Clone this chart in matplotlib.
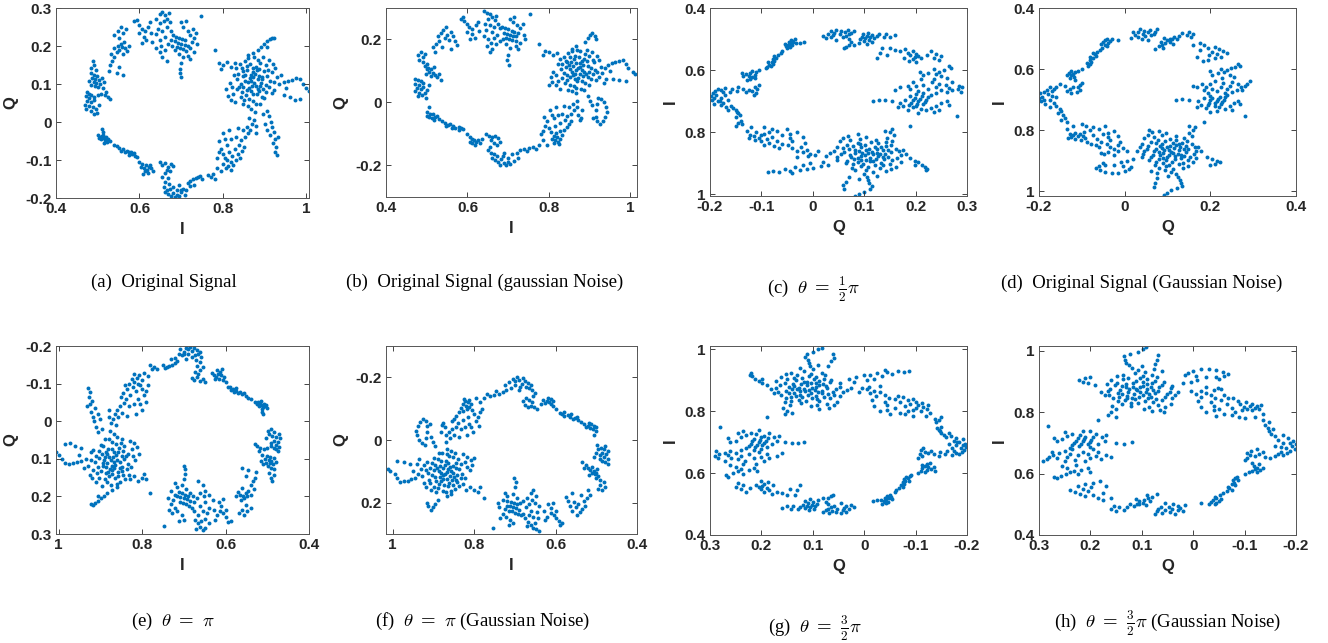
import numpy as np
import matplotlib.pyplot as plt

plt.rcParams['mathtext.fontset'] = 'cm'

# ---------------- original signal, (I, Q) pairs
orig_left_arc = [
    (0.488, 0.160), (0.492, 0.150), (0.485, 0.142), (0.495, 0.138), (0.483, 0.128),
    (0.490, 0.125), (0.498, 0.120), (0.486, 0.115), (0.494, 0.112), (0.502, 0.110),
    (0.480, 0.108), (0.490, 0.105), (0.497, 0.102), (0.505, 0.100), (0.485, 0.098),
    (0.493, 0.095), (0.500, 0.092), (0.510, 0.115), (0.515, 0.105), (0.512, 0.090),
    (0.520, 0.080), (0.518, 0.070), (0.525, 0.065), (0.530, 0.060), (0.508, 0.075),
    (0.475, 0.080), (0.480, 0.075), (0.472, 0.068), (0.485, 0.070), (0.478, 0.062),
    (0.490, 0.065), (0.474, 0.055), (0.483, 0.052), (0.492, 0.058), (0.470, 0.045),
    (0.480, 0.042), (0.488, 0.040), (0.473, 0.035), (0.495, 0.035), (0.485, 0.030),
    (0.498, 0.025), (0.490, 0.020), (0.503, 0.045), (0.500, 0.070),
]
orig_lower_tail = [
    (0.510, -0.018), (0.512, -0.025), (0.500, -0.035), (0.505, -0.040), (0.510, -0.038),
    (0.515, -0.042), (0.520, -0.040), (0.508, -0.046), (0.518, -0.048), (0.525, -0.045),
    (0.502, -0.043), (0.513, -0.033), (0.522, -0.052), (0.530, -0.050), (0.515, -0.055),
    (0.538, -0.060), (0.545, -0.062), (0.552, -0.068), (0.560, -0.072), (0.566, -0.078),
    (0.570, -0.075), (0.575, -0.080), (0.580, -0.078), (0.583, -0.085), (0.588, -0.082),
    (0.575, -0.087), (0.590, -0.090), (0.595, -0.092), (0.555, -0.075),
    (0.600, -0.105), (0.605, -0.110), (0.603, -0.118), (0.610, -0.122), (0.612, -0.130),
    (0.618, -0.125), (0.622, -0.118), (0.615, -0.112), (0.628, -0.122), (0.633, -0.128),
    (0.620, -0.135), (0.608, -0.138), (0.625, -0.112),
]
orig_bottom = [
    (0.648, -0.105), (0.655, -0.112), (0.662, -0.108), (0.668, -0.118), (0.675, -0.110),
    (0.680, -0.115), (0.665, -0.125), (0.672, -0.130), (0.660, -0.135), (0.655, -0.145),
    (0.668, -0.148), (0.662, -0.158), (0.670, -0.162), (0.658, -0.170), (0.665, -0.178),
    (0.672, -0.175), (0.660, -0.185), (0.668, -0.190), (0.675, -0.195), (0.680, -0.188),
    (0.685, -0.198), (0.690, -0.192), (0.695, -0.196), (0.680, -0.170), (0.690, -0.178),
    (0.700, -0.185), (0.705, -0.175), (0.695, -0.165), (0.710, -0.192), (0.715, -0.160),
    (0.722, -0.155), (0.728, -0.150), (0.735, -0.148), (0.740, -0.145), (0.745, -0.142),
    (0.720, -0.168), (0.730, -0.165), (0.750, -0.150), (0.765, -0.140), (0.772, -0.145),
    (0.780, -0.150), (0.775, -0.138), (0.712, -0.178), (0.700, -0.180),
]
orig_lower_right = [
    (0.790, -0.080), (0.795, -0.070), (0.785, -0.095), (0.800, -0.085), (0.805, -0.095),
    (0.810, -0.100), (0.800, -0.110), (0.812, -0.115), (0.818, -0.105), (0.808, -0.122),
    (0.820, -0.125), (0.825, -0.112), (0.830, -0.100), (0.822, -0.090), (0.835, -0.085),
    (0.840, -0.095), (0.815, -0.080), (0.828, -0.070), (0.838, -0.060), (0.845, -0.075),
    (0.850, -0.065), (0.810, -0.060), (0.820, -0.045), (0.830, -0.040), (0.842, -0.048),
    (0.852, -0.040), (0.860, -0.030), (0.848, -0.022), (0.858, -0.012), (0.865, -0.020),
    (0.870, -0.005), (0.875, 0.005), (0.862, 0.010), (0.800, -0.030), (0.805, -0.045),
    (0.815, -0.020), (0.835, -0.015), (0.880, -0.030), (0.878, -0.010), (0.790, -0.050),
    (0.785, -0.120), (0.795, -0.128),
    (0.915, 0.000), (0.918, -0.012), (0.922, -0.025), (0.912, -0.035), (0.925, -0.045),
    (0.920, -0.055), (0.928, -0.065), (0.925, -0.078), (0.930, -0.088), (0.905, -0.020),
    (0.900, -0.005), (0.910, 0.015), (0.932, -0.040), (0.895, 0.020), (0.905, 0.030),
]
orig_main_cluster = [
    (0.841, 0.153), (0.853, 0.161), (0.861, 0.168), (0.874, 0.171), (0.883, 0.163),
    (0.889, 0.155), (0.902, 0.151), (0.907, 0.137), (0.917, 0.131), (0.846, 0.143),
    (0.857, 0.147), (0.864, 0.152), (0.879, 0.146), (0.886, 0.139), (0.899, 0.133),
    (0.836, 0.126), (0.849, 0.133), (0.857, 0.136), (0.871, 0.131), (0.876, 0.126),
    (0.887, 0.122), (0.893, 0.118), (0.906, 0.121), (0.913, 0.108), (0.833, 0.113),
    (0.847, 0.121), (0.853, 0.109), (0.864, 0.116), (0.871, 0.118), (0.884, 0.112),
    (0.891, 0.103), (0.902, 0.098), (0.909, 0.093), (0.921, 0.104), (0.842, 0.101),
    (0.848, 0.093), (0.859, 0.104), (0.869, 0.096), (0.878, 0.094), (0.884, 0.087),
    (0.897, 0.087), (0.904, 0.078), (0.917, 0.077), (0.834, 0.087), (0.846, 0.078),
    (0.857, 0.083), (0.866, 0.082), (0.873, 0.073), (0.881, 0.075), (0.893, 0.066),
    (0.899, 0.064), (0.843, 0.067), (0.851, 0.058), (0.863, 0.061), (0.871, 0.054),
    (0.879, 0.047), (0.889, 0.047), (0.861, 0.042), (0.867, 0.033), (0.876, 0.026),
    (0.849, 0.047), (0.821, 0.092), (0.824, 0.073), (0.816, 0.103), (0.811, 0.068),
    (0.807, 0.087), (0.819, 0.058), (0.829, 0.052), (0.831, 0.142), (0.826, 0.123),
    (0.923, 0.083), (0.929, 0.118), (0.924, 0.142), (0.919, 0.152), (0.911, 0.162),
    (0.871, 0.182), (0.859, 0.176), (0.896, 0.172), (0.868, 0.108), (0.875, 0.102),
    (0.862, 0.089), (0.889, 0.094), (0.853, 0.125), (0.881, 0.136), (0.894, 0.112),
    (0.839, 0.092), (0.872, 0.141), (0.856, 0.071), (0.886, 0.081), (0.866, 0.124),
    (0.885, 0.190), (0.892, 0.198), (0.898, 0.205), (0.905, 0.212), (0.912, 0.218),
    (0.918, 0.222), (0.905, 0.198), (0.922, 0.220), (0.780, 0.190), (0.790, 0.155),
    (0.800, 0.150), (0.810, 0.158), (0.818, 0.145), (0.828, 0.155), (0.795, 0.140),
    (0.945, 0.105), (0.955, 0.108), (0.965, 0.110), (0.975, 0.115), (0.985, 0.112),
    (0.992, 0.100), (1.000, 0.090), (1.005, 0.082), (0.945, 0.070), (0.960, 0.065),
    (0.972, 0.058), (0.985, 0.060), (0.950, 0.090), (0.935, 0.100), (0.940, 0.125),
]
orig_top_cluster = [
    (0.680, 0.230), (0.688, 0.225), (0.695, 0.220), (0.702, 0.218), (0.710, 0.215),
    (0.684, 0.212), (0.692, 0.208), (0.700, 0.205), (0.708, 0.202), (0.716, 0.200),
    (0.690, 0.198), (0.698, 0.195), (0.705, 0.192), (0.712, 0.188), (0.720, 0.195),
    (0.725, 0.210), (0.730, 0.220), (0.722, 0.230), (0.715, 0.240), (0.705, 0.250),
    (0.700, 0.262), (0.712, 0.265), (0.728, 0.245), (0.735, 0.235), (0.738, 0.205),
    (0.730, 0.185), (0.715, 0.175), (0.705, 0.170), (0.695, 0.180), (0.700, 0.155),
    (0.698, 0.140), (0.696, 0.128), (0.700, 0.118), (0.685, 0.190), (0.678, 0.200),
    (0.747, 0.280), (0.720, 0.165),
]
orig_top_arc = [
    (0.530, 0.150), (0.535, 0.160), (0.540, 0.170), (0.532, 0.180), (0.545, 0.185),
    (0.552, 0.190), (0.540, 0.195), (0.548, 0.200), (0.558, 0.198), (0.565, 0.195),
    (0.570, 0.188), (0.555, 0.205), (0.562, 0.210), (0.575, 0.200), (0.560, 0.178),
    (0.550, 0.145), (0.545, 0.130), (0.528, 0.135), (0.560, 0.125),
    (0.540, 0.230), (0.548, 0.240), (0.555, 0.250), (0.560, 0.235), (0.568, 0.245),
    (0.552, 0.222),
    (0.586, 0.265), (0.595, 0.268), (0.600, 0.255), (0.605, 0.245), (0.612, 0.240),
    (0.598, 0.235), (0.610, 0.225), (0.620, 0.250), (0.625, 0.262), (0.628, 0.235),
    (0.615, 0.215), (0.605, 0.208), (0.630, 0.210),
    (0.650, 0.285), (0.655, 0.290), (0.662, 0.282), (0.670, 0.288), (0.640, 0.270),
    (0.648, 0.260), (0.658, 0.265), (0.665, 0.270), (0.672, 0.262), (0.645, 0.245),
    (0.655, 0.240), (0.665, 0.250), (0.675, 0.240), (0.640, 0.232), (0.660, 0.225),
    (0.648, 0.215), (0.652, 0.200), (0.660, 0.190), (0.668, 0.205), (0.675, 0.215),
    (0.640, 0.195), (0.655, 0.170), (0.665, 0.160), (0.650, 0.185),
]

# ---------------- signal with gaussian noise, (I, Q) pairs
noisy_left_arc = [
    (0.478, 0.150), (0.485, 0.160), (0.490, 0.145), (0.495, 0.155), (0.482, 0.135),
    (0.492, 0.128), (0.500, 0.122), (0.495, 0.115), (0.502, 0.110), (0.510, 0.105),
    (0.505, 0.098), (0.515, 0.095), (0.498, 0.092), (0.520, 0.088), (0.510, 0.085),
    (0.525, 0.080), (0.500, 0.105), (0.518, 0.112), (0.530, 0.090), (0.535, 0.070),
    (0.470, 0.075), (0.478, 0.070), (0.485, 0.068), (0.472, 0.060), (0.480, 0.055),
    (0.490, 0.062), (0.475, 0.045), (0.485, 0.042), (0.492, 0.048), (0.470, 0.035),
    (0.480, 0.030), (0.488, 0.025), (0.495, 0.030), (0.478, 0.020), (0.500, 0.040),
    (0.505, 0.055), (0.498, 0.015),
]
noisy_lower_tail = [
    (0.505, -0.015), (0.500, -0.030), (0.508, -0.035), (0.515, -0.038), (0.505, -0.045),
    (0.520, -0.045), (0.512, -0.050), (0.525, -0.042), (0.518, -0.055), (0.530, -0.052),
    (0.500, -0.042), (0.538, -0.058), (0.545, -0.065), (0.552, -0.070), (0.558, -0.068),
    (0.565, -0.075), (0.570, -0.080), (0.578, -0.078), (0.585, -0.082), (0.580, -0.088),
    (0.590, -0.085), (0.548, -0.075), (0.562, -0.082),
    (0.600, -0.100), (0.605, -0.108), (0.610, -0.115), (0.615, -0.120), (0.620, -0.125),
    (0.612, -0.130), (0.625, -0.118), (0.630, -0.128), (0.618, -0.135), (0.605, -0.125),
    (0.635, -0.115),
]
noisy_bottom = [
    (0.645, -0.100), (0.652, -0.105), (0.660, -0.110), (0.668, -0.105), (0.675, -0.112),
    (0.658, -0.120), (0.665, -0.128), (0.672, -0.135), (0.680, -0.125), (0.655, -0.140),
    (0.650, -0.150), (0.658, -0.160), (0.665, -0.165), (0.672, -0.170), (0.660, -0.175),
    (0.668, -0.182), (0.675, -0.188), (0.682, -0.180), (0.690, -0.192), (0.680, -0.198),
    (0.695, -0.200), (0.700, -0.188), (0.688, -0.170), (0.705, -0.195),
    (0.700, -0.175), (0.710, -0.165), (0.715, -0.185), (0.722, -0.160), (0.730, -0.152),
    (0.738, -0.148), (0.745, -0.155), (0.750, -0.145), (0.725, -0.175), (0.760, -0.140),
    (0.768, -0.148), (0.775, -0.135), (0.690, -0.160),
]
noisy_lower_right = [
    (0.790, -0.075), (0.795, -0.060), (0.785, -0.090), (0.800, -0.082), (0.806, -0.095),
    (0.812, -0.105), (0.808, -0.115), (0.815, -0.120), (0.820, -0.110), (0.822, -0.125),
    (0.828, -0.115), (0.832, -0.102), (0.826, -0.092), (0.818, -0.098), (0.812, -0.128),
    (0.825, -0.132), (0.838, -0.088), (0.845, -0.078), (0.815, -0.075), (0.828, -0.065),
    (0.840, -0.055), (0.848, -0.068), (0.855, -0.060), (0.812, -0.050), (0.822, -0.040),
    (0.832, -0.035), (0.845, -0.042), (0.855, -0.035), (0.862, -0.025), (0.850, -0.015),
    (0.860, -0.005), (0.868, -0.015), (0.872, -0.040), (0.878, -0.048), (0.875, -0.055),
    (0.868, 0.005), (0.802, -0.025), (0.808, -0.040), (0.818, -0.015), (0.838, -0.010),
    (0.882, -0.025), (0.788, -0.045), (0.785, -0.120), (0.795, -0.135), (0.780, -0.100),
    (0.920, 0.015), (0.928, 0.010), (0.935, 0.000), (0.940, -0.015), (0.942, -0.030),
    (0.938, -0.045), (0.932, -0.058), (0.925, -0.068), (0.918, -0.060), (0.915, -0.045),
    (0.916, -0.025), (0.918, -0.005), (0.905, -0.008), (0.900, 0.005), (0.895, 0.020),
    (0.908, -0.050),
]
noisy_main_cluster = [
    (0.836, 0.146), (0.847, 0.157), (0.856, 0.164), (0.869, 0.166), (0.877, 0.162),
    (0.889, 0.153), (0.897, 0.149), (0.907, 0.136), (0.911, 0.127), (0.841, 0.133),
    (0.851, 0.144), (0.863, 0.147), (0.873, 0.143), (0.886, 0.139), (0.893, 0.131),
    (0.831, 0.121), (0.845, 0.128), (0.854, 0.129), (0.866, 0.126), (0.877, 0.125),
    (0.884, 0.118), (0.896, 0.117), (0.903, 0.111), (0.913, 0.104), (0.829, 0.107),
    (0.842, 0.113), (0.851, 0.106), (0.859, 0.116), (0.871, 0.109), (0.881, 0.104),
    (0.887, 0.098), (0.899, 0.097), (0.907, 0.089), (0.917, 0.097), (0.837, 0.094),
    (0.845, 0.088), (0.857, 0.098), (0.865, 0.091), (0.875, 0.089), (0.883, 0.083),
    (0.895, 0.081), (0.903, 0.074), (0.915, 0.071), (0.833, 0.078), (0.843, 0.073),
    (0.851, 0.082), (0.863, 0.074), (0.869, 0.068), (0.881, 0.067), (0.889, 0.061),
    (0.899, 0.057), (0.839, 0.061), (0.851, 0.054), (0.861, 0.051), (0.867, 0.046),
    (0.879, 0.043), (0.887, 0.041), (0.857, 0.036), (0.867, 0.029), (0.847, 0.041),
    (0.817, 0.086), (0.823, 0.069), (0.811, 0.096), (0.807, 0.064), (0.804, 0.081),
    (0.816, 0.054), (0.827, 0.044), (0.827, 0.139), (0.821, 0.121), (0.923, 0.081),
    (0.927, 0.114), (0.923, 0.136), (0.917, 0.149), (0.905, 0.159), (0.867, 0.179),
    (0.857, 0.171), (0.893, 0.167), (0.931, 0.094), (0.934, 0.061), (0.941, 0.076),
    (0.801, 0.056), (0.866, 0.103), (0.876, 0.112), (0.858, 0.086), (0.891, 0.089),
    (0.848, 0.119), (0.882, 0.131), (0.871, 0.079), (0.861, 0.138),
    (0.888, 0.192), (0.895, 0.205), (0.900, 0.215), (0.906, 0.222), (0.912, 0.210),
    (0.916, 0.200), (0.775, 0.185), (0.790, 0.165), (0.800, 0.160), (0.810, 0.150),
    (0.820, 0.158), (0.785, 0.150),
    (0.945, 0.120), (0.955, 0.125), (0.962, 0.130), (0.972, 0.132), (0.982, 0.135),
    (0.990, 0.122), (0.995, 0.108), (1.005, 0.098), (1.012, 0.092), (0.958, 0.075),
    (0.972, 0.070), (0.988, 0.068), (0.950, 0.100), (0.938, 0.108),
]
noisy_top_cluster = [
    (0.685, 0.240), (0.692, 0.235), (0.700, 0.232), (0.708, 0.228), (0.715, 0.225),
    (0.690, 0.222), (0.698, 0.218), (0.705, 0.215), (0.712, 0.212), (0.720, 0.210),
    (0.695, 0.205), (0.702, 0.200), (0.710, 0.198), (0.718, 0.195), (0.725, 0.220),
    (0.730, 0.235), (0.722, 0.245), (0.712, 0.255), (0.705, 0.265), (0.715, 0.270),
    (0.735, 0.250), (0.738, 0.215), (0.728, 0.190), (0.718, 0.178), (0.705, 0.172),
    (0.695, 0.185), (0.700, 0.150), (0.698, 0.135), (0.702, 0.120), (0.688, 0.200),
    (0.754, 0.282), (0.725, 0.170), (0.740, 0.200),
]
noisy_top_arc = [
    (0.515, 0.175), (0.522, 0.185), (0.530, 0.195), (0.528, 0.210), (0.535, 0.220),
    (0.540, 0.230), (0.545, 0.205), (0.550, 0.215), (0.555, 0.198), (0.560, 0.225),
    (0.565, 0.210), (0.570, 0.195), (0.575, 0.182), (0.548, 0.240), (0.538, 0.175),
    (0.560, 0.170), (0.520, 0.160),
    (0.585, 0.265), (0.592, 0.258), (0.598, 0.248), (0.604, 0.240), (0.610, 0.232),
    (0.600, 0.225), (0.612, 0.218), (0.620, 0.245), (0.625, 0.255), (0.628, 0.228),
    (0.618, 0.205), (0.606, 0.200), (0.590, 0.270),
    (0.640, 0.292), (0.648, 0.285), (0.655, 0.280), (0.650, 0.265), (0.660, 0.272),
    (0.668, 0.262), (0.642, 0.250), (0.655, 0.245), (0.665, 0.240), (0.675, 0.250),
    (0.645, 0.230), (0.660, 0.225), (0.680, 0.235), (0.670, 0.275),
    (0.640, 0.210), (0.650, 0.200), (0.658, 0.190), (0.665, 0.205), (0.672, 0.215),
    (0.648, 0.180), (0.660, 0.170), (0.670, 0.185), (0.680, 0.195), (0.655, 0.160),
]

orig = np.array(orig_left_arc + orig_lower_tail + orig_bottom + orig_lower_right
                + orig_main_cluster + orig_top_cluster + orig_top_arc)
noisy = np.array(noisy_left_arc + noisy_lower_tail + noisy_bottom + noisy_lower_right
                 + noisy_main_cluster + noisy_top_cluster + noisy_top_arc)

ticks_I = [0.4, 0.6, 0.8, 1]
ticks_Q1 = [-0.2, -0.1, 0, 0.1, 0.2, 0.3]
ticks_Q2 = [-0.2, 0, 0.2]
ticks_Q3 = [-0.2, 0, 0.2, 0.4]

W, H = 1328, 643
BLUE = '#0072BD'
DARK = '#262626'

# rect in pixels: left, top, right, bottom
panels = [
    dict(rect=(56, 8, 309, 198), data=orig, swap=False, xlim=(0.4, 1.006), ylim=(-0.2, 0.3),
         xt=ticks_I, yt=ticks_Q1, xl='I', yl='Q',
         cap='(a)  Original Signal', cx=164, cy=287),
    dict(rect=(386, 8, 637, 197), data=noisy, swap=False, xlim=(0.4, 1.016), ylim=(-0.3, 0.3),
         xt=ticks_I, yt=ticks_Q2, xl='I', yl='Q',
         cap='(b)  Original Signal (gaussian Noise)', cx=485, cy=287),
    dict(rect=(710, 8, 967, 196), data=orig, swap=True, xlim=(-0.2, 0.3), ylim=(1.006, 0.4),
         xt=ticks_Q1, yt=ticks_I, xl='Q', yl='I',
         cap=r'(c)  $\theta\ =\ \frac{1}{2}\pi$', cx=813, cy=294),
    dict(rect=(1039, 8, 1296, 196), data=noisy, swap=True, xlim=(-0.2, 0.4), ylim=(1.016, 0.4),
         xt=ticks_Q3, yt=ticks_I, xl='Q', yl='I',
         cap='(d)  Original Signal (Gaussian Noise)', cx=1142, cy=288),
    dict(rect=(56, 346, 309, 534), data=orig, swap=False, xlim=(1.006, 0.4), ylim=(0.3, -0.2),
         xt=ticks_I, yt=ticks_Q1, xl='I', yl='Q',
         cap=r'(e)  $\theta\ =\ \pi$', cx=173, cy=626),
    dict(rect=(386, 346, 637, 534), data=noisy, swap=False, xlim=(1.016, 0.4), ylim=(0.3, -0.3),
         xt=ticks_I, yt=ticks_Q2, xl='I', yl='Q',
         cap=r'(f)  $\theta\ =\ \pi$ (Gaussian Noise)', cx=483, cy=626),
    dict(rect=(710, 346, 967, 535), data=orig, swap=True, xlim=(0.3, -0.2), ylim=(0.4, 1.01),
         xt=ticks_Q1, yt=ticks_I, xl='Q', yl='I',
         cap=r'(g)  $\theta\ =\ \frac{3}{2}\pi$', cx=815, cy=633),
    dict(rect=(1039, 346, 1296, 535), data=noisy, swap=True, xlim=(0.3, -0.2), ylim=(0.4, 1.016),
         xt=ticks_Q1, yt=ticks_I, xl='Q', yl='I',
         cap=r'(h)  $\theta\ =\ \frac{3}{2}\pi$ (Gaussian Noise)', cx=1168, cy=628),
]

fig = plt.figure(figsize=(W / 100, H / 100), dpi=100)

for p in panels:
    l, t, r, b = p['rect']
    ax = fig.add_axes([l / W, 1 - b / H, (r - l) / W, (b - t) / H])
    d = p['data']
    x, y = (d[:, 1], d[:, 0]) if p['swap'] else (d[:, 0], d[:, 1])
    ax.scatter(x, y, s=8, c=BLUE, linewidths=0)
    ax.set_xlim(*p['xlim'])
    ax.set_ylim(*p['ylim'])
    ax.set_xticks(p['xt'], labels=['%g' % v for v in p['xt']])
    ax.set_yticks(p['yt'], labels=['%g' % v for v in p['yt']])
    ax.tick_params(direction='in', length=3.5, width=0.6, top=True, right=True,
                   colors=DARK, labelsize=11, pad=3)
    for lab in ax.get_xticklabels() + ax.get_yticklabels():
        lab.set_fontweight('bold')
        lab.set_fontfamily('Liberation Sans')
    for sp in ax.spines.values():
        sp.set_color('#555555')
        sp.set_linewidth(0.7)
    ax.set_xlabel(p['xl'], fontsize=12, fontweight='bold', family='Liberation Sans',
                  color=DARK, labelpad=4)
    ax.set_ylabel(p['yl'], fontsize=12, fontweight='bold', family='Liberation Sans',
                  color=DARK, labelpad=5)
    fig.text(p['cx'] / W, 1 - p['cy'] / H, p['cap'], ha='center', va='baseline',
             fontsize=13.5, family='Liberation Serif')

fig.savefig('out.png', dpi=100)
